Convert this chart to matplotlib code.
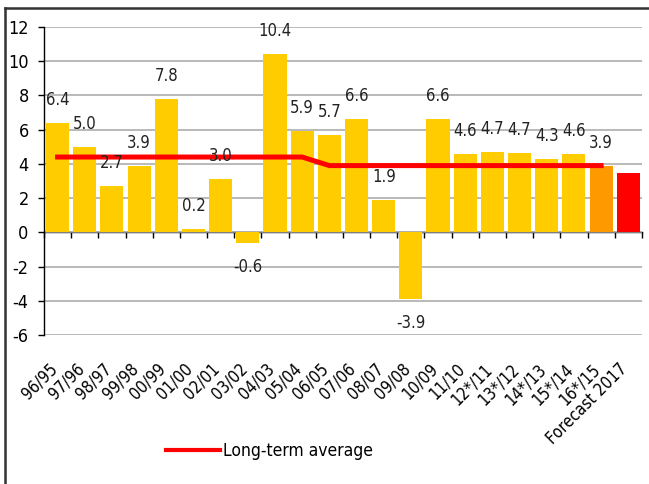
import numpy as np
import matplotlib.pyplot as plt
from matplotlib.lines import Line2D
from matplotlib.transforms import ScaledTranslation

plt.rcParams['font.family'] = ['DejaVu Sans']
plt.rcParams['font.stretch'] = 'condensed'
plt.rcParams['axes.unicode_minus'] = False

labels = ['96/95', '97/96', '98/97', '99/98', '00/99', '01/00', '02/01', '03/02',
          '04/03', '05/04', '06/05', '07/06', '08/07', '09/08', '10/09', '11/10',
          '12*/11', '13*/12', '14*/13', '15*/14', '16*/15', 'Forecast 2017']
values = [6.4, 5.0, 2.7, 3.9, 7.8, 0.2, 3.1, -0.6, 10.4, 5.9, 5.7, 6.6, 1.9,
          -3.9, 6.6, 4.6, 4.7, 4.65, 4.3, 4.6, 3.9, 3.45]
value_text = ['6.4', '5.0', '2.7', '3.9', '7.8', '0.2', '3.0', '-0.6', '10.4', '5.9',
              '5.7', '6.6', '1.9', '-3.9', '6.6', '4.6', '4.7', '4.7', '4.3', '4.6',
              '3.9', '']
longterm = [4.4] * 10 + [3.9] * 11

yellow = '#FFCC00'
colors = [yellow] * 20 + ['#FF9900', '#FF0000']

fig = plt.figure(figsize=(6.49, 4.84), dpi=100)
ax = fig.add_axes([0.0678, 0.3079, 0.9212, 0.6363])

x = np.arange(len(labels))
ax.bar(x, values, width=0.85, color=colors, zorder=2)
ax.plot(x[:len(longterm)], longterm, color='#FF0000', lw=3.6, zorder=3,
        solid_joinstyle='miter', label='Long-term average')

for xi, v, t in zip(x, values, value_text):
    off = 16.5 if v >= 0 else -17.5
    ax.annotate(t, (xi, v), xytext=(0, off), textcoords='offset points',
                ha='center', va='center', fontsize=12, color='#222222', zorder=4)

ax.set_xlim(-0.5, len(labels) - 0.5)
ax.set_ylim(-6, 12)
ax.set_yticks(np.arange(-6, 13, 2))
ax.yaxis.grid(True, color='#A6A6A6', lw=1.1, zorder=0)
ax.set_axisbelow(True)
for s in ['top', 'right', 'bottom']:
    ax.spines[s].set_visible(False)
ax.spines['left'].set_linewidth(1.0)
ax.tick_params(axis='y', length=4.5, width=1, pad=6.5, labelsize=13)

ax.set_xticks(x)
ax.set_xticklabels(labels, rotation=45, ha='right', rotation_mode='anchor',
                   fontsize=12)
ax.tick_params(axis='x', length=0, pad=18)
shift = ScaledTranslation(-7 / 72, 0, fig.dpi_scale_trans)
for lab in ax.get_xticklabels():
    lab.set_transform(lab.get_transform() + shift)

# category axis at zero with ticks between categories
zax = ax.secondary_xaxis(6 / 18)
zax.set_xticks(np.arange(len(labels) + 1) - 0.5)
zax.set_xticklabels([])
zax.tick_params(length=4.5, width=1, direction='out')
zax.spines['bottom'].set_linewidth(1.0)

fig.legend(handles=[Line2D([], [], color='#FF0000', lw=3.0)],
           labels=['Long-term average'], loc='center left',
           bbox_to_anchor=(0.232, 0.068), frameon=False, fontsize=12.5,
           handlelength=3.1, handletextpad=0.15)

# outer frame
fig.add_artist(Line2D([0.008, 0.008], [0, 0.984], color='#333333', lw=1.8))
fig.add_artist(Line2D([0.008, 1.0], [0.984, 0.984], color='#333333', lw=1.8))

fig.savefig('out.png', dpi=100)
